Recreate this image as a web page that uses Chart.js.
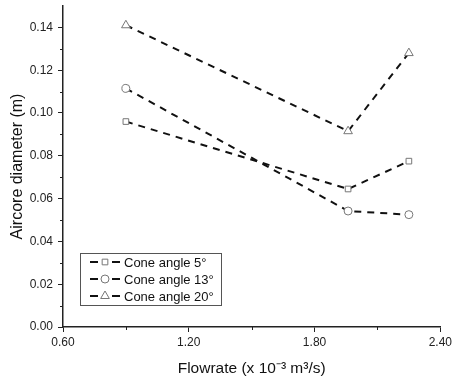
<!DOCTYPE html>
<html><head><meta charset="utf-8">
<script src="https://cdn.jsdelivr.net/npm/chart.js@4/dist/chart.umd.min.js"></script>
<style>html,body{margin:0;padding:0;background:#fff}#wrap{width:455px;height:382px}</style>
</head><body><div id="wrap"><canvas id="c" width="455" height="382"></canvas></div>
<script>
const flowrate = [0.90, 1.96, 2.25];
const cone5 = [0.096, 0.0645, 0.0775];
const cone13 = [0.1115, 0.0542, 0.0525];
const cone20 = [0.1410, 0.0915, 0.1280];
const seriesLabels = ['Cone angle 5°', 'Cone angle 13°', 'Cone angle 20°'];
const xTicks = [0.60, 1.20, 1.80, 2.40];
const xMinor = [0.90, 1.50, 2.10];
const yTicks = [0.00, 0.02, 0.04, 0.06, 0.08, 0.10, 0.12, 0.14];
const yMinor = [0.01, 0.03, 0.05, 0.07, 0.09, 0.11, 0.13];
const markers = ['rect', 'circle', 'triangle'];

const FONT = 'Liberation Sans, Arial, sans-serif';
function mk(vals, i){
  return {
    label: seriesLabels[i],
    data: flowrate.map((x,k)=>({x:x,y:vals[k]})),
    borderColor:'#111', borderWidth:2, borderDash:[7,6],
    pointStyle: markers[i], pointRadius: i===2?5:4,
    pointBackgroundColor:'#fff', pointBorderColor:'#777', pointBorderWidth:1,
    fill:false, tension:0
  };
}
const minorPlugin = {
  id:'minor',
  afterDraw(chart){
    const ctx = chart.ctx, xs = chart.scales.x, ys = chart.scales.y;
    ctx.save();
    ctx.strokeStyle='#222'; ctx.lineWidth=1;
    xMinor.forEach(v=>{const p=Math.round(xs.getPixelForValue(v))+0.5;ctx.beginPath();ctx.moveTo(p,ys.bottom);ctx.lineTo(p,ys.bottom+3);ctx.stroke();});
    yMinor.forEach(v=>{const p=Math.round(ys.getPixelForValue(v))+0.5;ctx.beginPath();ctx.moveTo(xs.left,p);ctx.lineTo(xs.left-3,p);ctx.stroke();});
    // legend
    const bx=80.5, by=253.5, bw=141, bh=52;
    ctx.fillStyle='#fff'; ctx.fillRect(bx,by,bw,bh);
    ctx.strokeStyle='#555'; ctx.strokeRect(bx,by,bw,bh);
    const rows=[262,279,296];
    chart.data.datasets.forEach((ds,i)=>{
      const y=rows[i];
      ctx.strokeStyle='#111'; ctx.lineWidth=2; ctx.setLineDash([]);
      ctx.beginPath(); ctx.moveTo(90,y); ctx.lineTo(98,y); ctx.moveTo(112,y); ctx.lineTo(120,y); ctx.stroke();
      ctx.lineWidth=1; ctx.strokeStyle='#777'; ctx.fillStyle='#fff';
      Chart.helpers.drawPoint(ctx,{pointStyle:ds.pointStyle,radius:ds.pointRadius,rotation:0,borderWidth:1},105,y);
      ctx.fillStyle='#111'; ctx.font='13px '+FONT; ctx.textBaseline='middle'; ctx.textAlign='left';
      ctx.fillText(ds.label,124,y+1);
    });
    ctx.restore();
  }
};
new Chart(document.getElementById('c'),{
  type:'line',
  data:{datasets:[mk(cone5,0),mk(cone13,1),mk(cone20,2)]},
  options:{
    responsive:false, animation:false, devicePixelRatio:1,
    layout:{padding:{top:6,right:14,left:0,bottom:0}},
    plugins:{legend:{display:false},tooltip:{enabled:false}},
    scales:{
      x:{type:'linear',min:0.6,max:2.4,
        afterBuildTicks:s=>{s.ticks=xTicks.map(v=>({value:v}));},
        afterFit:s=>{s.height=55;},
        grid:{drawOnChartArea:false,tickLength:5,color:'#222'},
        border:{display:true,color:'#222',width:1.5},
        ticks:{color:'#222',font:{family:FONT,size:12},padding:3,maxRotation:0,callback:v=>Number(v).toFixed(2)},
        title:{display:true,text:'Flowrate (x 10⁻³ m³/s)',color:'#111',font:{family:FONT,size:15.5},padding:{top:6}}
      },
      y:{type:'linear',min:0,max:0.15,
        afterBuildTicks:s=>{s.ticks=yTicks.map(v=>({value:v}));},
        afterFit:s=>{s.width=63; s.paddingTop=0; s.paddingBottom=0;},
        grid:{drawOnChartArea:false,tickLength:5,color:'#222'},
        border:{display:true,color:'#222',width:1.5},
        ticks:{color:'#222',font:{family:FONT,size:12},padding:5,callback:v=>Number(v).toFixed(2)},
        title:{display:true,text:'Aircore diameter (m)',color:'#111',font:{family:FONT,size:16},padding:{top:8,bottom:2}}
      }
    }
  },
  plugins:[minorPlugin]
});
</script></body></html>
